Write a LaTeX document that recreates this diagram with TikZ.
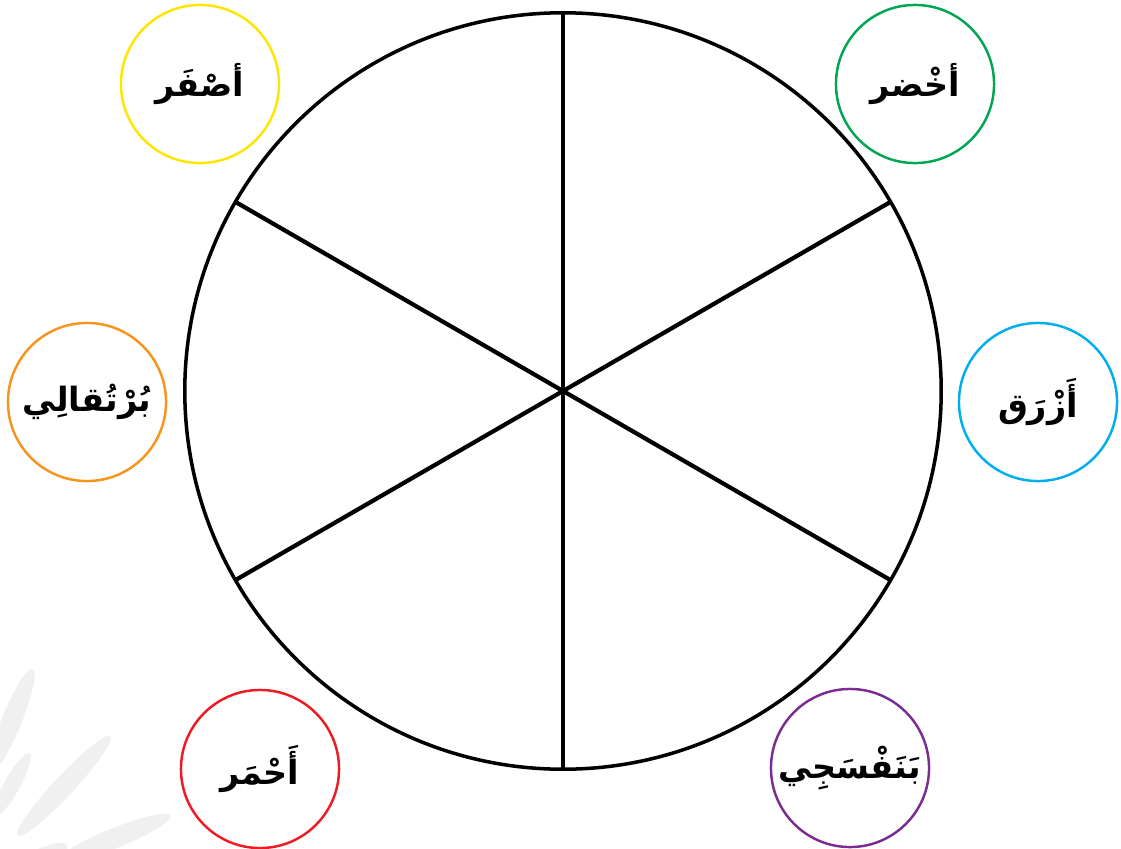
\documentclass[tikz,border=0pt]{standalone}
\usepackage{fontspec}
\usepackage{xcolor}
\usepackage{tikz}
\usetikzlibrary{shapes.geometric, positioning, calc}
\TeXXeTstate=1
\newfontfamily\arabicfont[Script=Arabic]{DejaVu Sans}
\definecolor{cyellow}{HTML}{FFE600}
\definecolor{cgreen}{HTML}{00A651}
\definecolor{corange}{HTML}{F7941D}
\definecolor{cblue}{HTML}{00AEEF}
\definecolor{cred}{HTML}{ED1C24}
\definecolor{cpurple}{HTML}{7B2C91}
\tikzset{
    bubble/.style={circle, draw, line width=0.7pt, minimum size=1.58cm, inner sep=0pt, outer sep=0pt, text centered, font=\arabicfont\bfseries\fontsize{9.5}{12}\selectfont},
    spoke/.style={line width=1.2pt},
    leaf/.style={fill=black!6, draw=none}
}
\newcommand{\ar}[1]{\beginR #1\endR}

\begin{document}
\begin{tikzpicture}[x=0.01cm, y=-0.01cm]
    \useasboundingbox (0,0) rectangle (1121,848);
    % watermark leaves
    \fill[leaf, rotate around={68:(12,720)}] (12,720) ellipse [x radius=55, y radius=10];
    \fill[leaf, rotate around={61:(12,785)}] (12,785) ellipse [x radius=36, y radius=8];
    \fill[leaf, rotate around={47:(64,786)}] (64,786) ellipse [x radius=68, y radius=10];
    \fill[leaf, rotate around={22:(115,838)}] (115,838) ellipse [x radius=60, y radius=10];
    \fill[leaf, rotate around={25:(40,858)}] (40,858) ellipse [x radius=30, y radius=9];

    % wheel
    \node (wheel) [circle, draw, line width=1pt, minimum size=7.56cm, inner sep=0pt, outer sep=0pt] at (563,391) {};
    \foreach \a in {90,30,-30,-90,-150,150}
        \draw [spoke] (wheel.center) -- (wheel.\a);

    % colour names
    \node (yellow) [bubble, draw=cyellow] at (200,84) {\ar{أصْفَر}};
    \node (green) [bubble, draw=cgreen] at (915,84) {\ar{أخْضر}};
    \node (orange) [bubble, draw=corange] at (87,402) {\ar{بُرْتُقالِي}};
    \node (blue) [bubble, draw=cblue] at (1038,402) {\ar{أَزْرَق}};
    \node (red) [bubble, draw=cred] at (260,769) {\ar{أَحْمَر}};
    \node (purple) [bubble, draw=cpurple] at (850,768) {\ar{بَنَفْسَجِي}};
\end{tikzpicture}
\end{document}
